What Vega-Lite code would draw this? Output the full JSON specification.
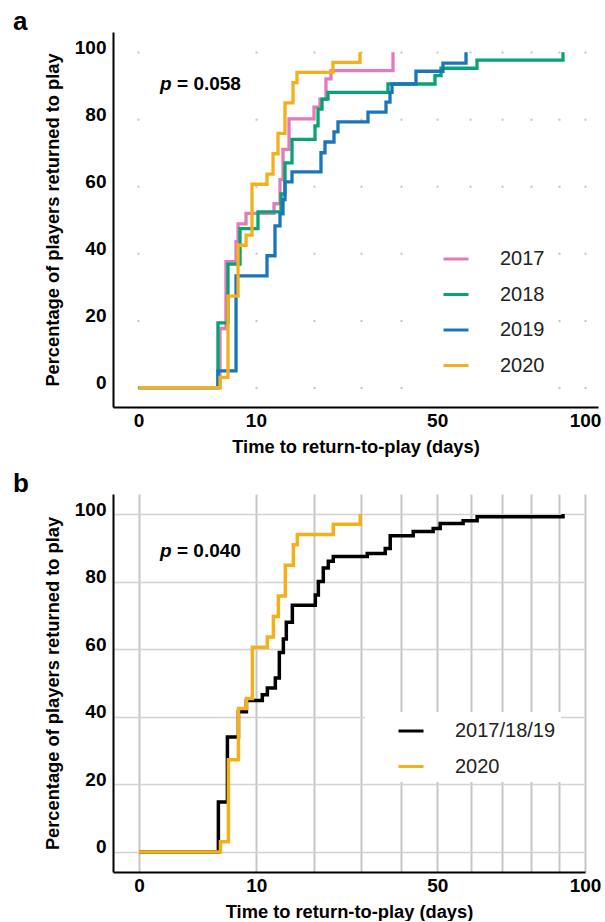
{
  "$schema": "https://vega.github.io/schema/vega-lite/v6.json",
  "background": "white",
  "padding": {"left": 13, "top": 9, "right": 0, "bottom": 0},
  "spacing": 15,
  "resolve": {
    "scale": {"x": "independent", "y": "independent", "color": "independent"},
    "axis": {"x": "independent", "y": "independent"},
    "legend": {"color": "independent"}
  },
  "config": {
    "view": {"stroke": null},
    "font": "Liberation Sans",
    "axis": {
      "domainColor": "#000000",
      "domainWidth": 2,
      "ticks": false,
      "tickSize": 0,
      "labelFont": "Liberation Sans",
      "labelFontWeight": "bold",
      "labelFontSize": 19,
      "labelColor": "#000000",
      "titleFont": "Liberation Sans",
      "titleFontWeight": "bold",
      "titleFontSize": 18.3,
      "titleColor": "#000000",
      "labelFlush": false,
      "labelOverlap": false
    },
    "legend": {
      "labelFont": "Liberation Sans",
      "labelFontSize": 20,
      "labelColor": "#222222"
    },
    "title": {"font": "Liberation Sans", "fontSize": 26, "fontWeight": "bold", "color": "#000000"}
  },
  "datasets": {
    "km": [
      {"g": "2017", "t": 0, "v": 0}, {"g": "2017", "t": 5.33, "v": 17.6}, {"g": "2017", "t": 6.02, "v": 37.5}, {"g": "2017", "t": 7.26, "v": 43.5}, {"g": "2017", "t": 7.52, "v": 48.8}, {"g": "2017", "t": 8.59, "v": 51.9}, {"g": "2017", "t": 12.8, "v": 54.8}, {"g": "2017", "t": 13.79, "v": 62}, {"g": "2017", "t": 14.3, "v": 71}, {"g": "2017", "t": 15.34, "v": 80.1}, {"g": "2017", "t": 19.99, "v": 83.6}, {"g": "2017", "t": 21.18, "v": 86}, {"g": "2017", "t": 22.4, "v": 92}, {"g": "2017", "t": 23.44, "v": 94.5}, {"g": "2017", "t": 37.94, "v": 100},
      {"g": "2018", "t": 0, "v": 0}, {"g": "2018", "t": 5.1, "v": 19.3}, {"g": "2018", "t": 6.26, "v": 36.8}, {"g": "2018", "t": 7.78, "v": 47.4}, {"g": "2018", "t": 10.3, "v": 52.4}, {"g": "2018", "t": 13.96, "v": 57.7}, {"g": "2018", "t": 14.64, "v": 67}, {"g": "2018", "t": 15.87, "v": 74}, {"g": "2018", "t": 20.19, "v": 78}, {"g": "2018", "t": 20.79, "v": 83}, {"g": "2018", "t": 21.59, "v": 86}, {"g": "2018", "t": 22.82, "v": 88}, {"g": "2018", "t": 36.66, "v": 90.5}, {"g": "2018", "t": 49.37, "v": 93}, {"g": "2018", "t": 51.11, "v": 95.2}, {"g": "2018", "t": 62.04, "v": 97.6}, {"g": "2018", "t": 91.66, "v": 100},
      {"g": "2019", "t": 0, "v": 0}, {"g": "2019", "t": 5.1, "v": 5}, {"g": "2019", "t": 7.26, "v": 33.3}, {"g": "2019", "t": 11.68, "v": 39.3}, {"g": "2019", "t": 12.96, "v": 48.2}, {"g": "2019", "t": 13.79, "v": 51.8}, {"g": "2019", "t": 14.3, "v": 56}, {"g": "2019", "t": 14.64, "v": 61.3}, {"g": "2019", "t": 15.87, "v": 64.3}, {"g": "2019", "t": 21.38, "v": 70}, {"g": "2019", "t": 22.2, "v": 73.2}, {"g": "2019", "t": 24.08, "v": 76.2}, {"g": "2019", "t": 24.93, "v": 79.2}, {"g": "2019", "t": 31.75, "v": 82.1}, {"g": "2019", "t": 36.16, "v": 85.1}, {"g": "2019", "t": 37.17, "v": 88}, {"g": "2019", "t": 37.69, "v": 90.5}, {"g": "2019", "t": 44.04, "v": 94.3}, {"g": "2019", "t": 51.69, "v": 96.7}, {"g": "2019", "t": 58.61, "v": 100},
      {"g": "2017/18/19", "t": 0, "v": 0}, {"g": "2017/18/19", "t": 5.1, "v": 14.8}, {"g": "2017/18/19", "t": 6.14, "v": 34}, {"g": "2017/18/19", "t": 7.52, "v": 41.5}, {"g": "2017/18/19", "t": 8.59, "v": 44.8}, {"g": "2017/18/19", "t": 10.9, "v": 46.5}, {"g": "2017/18/19", "t": 11.68, "v": 48.5}, {"g": "2017/18/19", "t": 12.96, "v": 51.5}, {"g": "2017/18/19", "t": 13.62, "v": 59}, {"g": "2017/18/19", "t": 14.3, "v": 63}, {"g": "2017/18/19", "t": 14.81, "v": 68}, {"g": "2017/18/19", "t": 15.87, "v": 73}, {"g": "2017/18/19", "t": 20.19, "v": 76}, {"g": "2017/18/19", "t": 20.79, "v": 80}, {"g": "2017/18/19", "t": 21.79, "v": 84}, {"g": "2017/18/19", "t": 22.82, "v": 86}, {"g": "2017/18/19", "t": 23.86, "v": 87.4}, {"g": "2017/18/19", "t": 31.51, "v": 88.3}, {"g": "2017/18/19", "t": 35.91, "v": 89.8}, {"g": "2017/18/19", "t": 37.17, "v": 93.6}, {"g": "2017/18/19", "t": 43.23, "v": 94.8}, {"g": "2017/18/19", "t": 48.8, "v": 95.7}, {"g": "2017/18/19", "t": 50.82, "v": 97.2}, {"g": "2017/18/19", "t": 57.68, "v": 98}, {"g": "2017/18/19", "t": 62.04, "v": 99.2}, {"g": "2017/18/19", "t": 91.66, "v": 100},
      {"g": "2020", "t": 0, "v": 0}, {"g": "2020", "t": 5.33, "v": 3.03}, {"g": "2020", "t": 6.26, "v": 27.27}, {"g": "2020", "t": 7.52, "v": 42.42}, {"g": "2020", "t": 8.6, "v": 45.45}, {"g": "2020", "t": 9.43, "v": 60.61}, {"g": "2020", "t": 11.68, "v": 63.64}, {"g": "2020", "t": 12.64, "v": 69.7}, {"g": "2020", "t": 13.46, "v": 75.76}, {"g": "2020", "t": 14.64, "v": 84.85}, {"g": "2020", "t": 16.05, "v": 90.91}, {"g": "2020", "t": 16.77, "v": 93.94}, {"g": "2020", "t": 23.86, "v": 96.97}, {"g": "2020", "t": 29.86, "v": 100}
    ],
    "notes": [
      {"panel": "a", "label": "= 0.058"},
      {"panel": "b", "label": "= 0.040"}
    ]
  },
  "vconcat": [
    {
      "width": 485,
      "height": 375,
      "title": {"text": "a", "anchor": "start", "frame": "group", "dx": -100, "baseline": "alphabetic", "offset": -24},
      "layer": [
        {
          "data": {"name": "km"},
          "transform": [{"filter": "datum.g != '2017/18/19'"}],
          "mark": {"type": "line", "interpolate": "step-after", "strokeWidth": 3.3},
          "encoding": {
            "x": {
              "field": "t", "type": "quantitative",
              "title": "Time to return-to-play (days)",
              "scale": {"type": "pow", "exponent": 0.58, "domain": [-0.7185, 105.08], "nice": false, "zero": false},
              "axis": {
                "values": [0, 10, 20, 30, 40, 50, 60, 70, 80, 90, 100],
                "labelExpr": "indexof([0, 10, 50, 100], datum.value) >= 0 ? datum.label : ''",
                "grid": true, "gridDash": [2, 65.08], "gridDashOffset": 47.98,
                "gridColor": "#c4c4c4", "gridWidth": 2,
                "labelPadding": 4, "titlePadding": 8
              }
            },
            "y": {
              "field": "v", "type": "quantitative",
              "title": "Percentage of players returned to play",
              "scale": {"domain": [-5.8, 106], "nice": false, "zero": false},
              "axis": {"values": [0, 20, 40, 60, 80, 100], "grid": false, "labelOffset": -5, "labelPadding": 7, "titlePadding": 12}
            },
            "color": {
              "field": "g", "type": "nominal",
              "scale": {"domain": ["2017", "2018", "2019", "2020"], "range": ["#E07BBE", "#06A472", "#1B75BC", "#F3B01C"]},
              "legend": {
                "title": null, "orient": "none", "legendX": 297, "legendY": 200,
                "fillColor": "white", "padding": 13, "symbolType": "stroke", "symbolSize": 625,
                "symbolStrokeWidth": 3, "rowPadding": 11.5, "symbolOffset": 19, "labelOffset": 30
              }
            }
          }
        },
        {
          "data": {"name": "notes"},
          "transform": [{"filter": "datum.panel == 'a'"}],
          "mark": {"type": "text", "text": "p", "fontStyle": "italic", "fontWeight": "bold", "fontSize": 19, "align": "left", "baseline": "middle", "color": "#000000"},
          "encoding": {
            "x": {"datum": 0.535, "type": "quantitative", "title": "Time to return-to-play (days)"},
            "y": {"datum": 90.5, "type": "quantitative", "title": "Percentage of players returned to play"}
          }
        },
        {
          "data": {"name": "notes"},
          "transform": [{"filter": "datum.panel == 'a'"}],
          "mark": {"type": "text", "fontWeight": "bold", "fontSize": 19, "align": "left", "baseline": "middle", "color": "#000000"},
          "encoding": {
            "x": {"datum": 1.462, "type": "quantitative", "title": "Time to return-to-play (days)"},
            "y": {"datum": 90.5, "type": "quantitative", "title": "Percentage of players returned to play"},
            "text": {"field": "label", "type": "nominal"}
          }
        }
      ]
    },
    {
      "width": 472,
      "height": 378,
      "title": {"text": "b", "anchor": "start", "frame": "group", "dx": -100, "baseline": "alphabetic", "offset": -24},
      "layer": [
        {
          "data": {"name": "km"},
          "transform": [{"filter": "datum.g == '2017/18/19' || datum.g == '2020'"}],
          "mark": {"type": "line", "interpolate": "step-after", "strokeWidth": 3.5},
          "encoding": {
            "x": {
              "field": "t", "type": "quantitative",
              "title": "Time to return-to-play (days)",
              "scale": {"type": "pow", "exponent": 0.58, "domain": [-0.7443, 100], "nice": false, "zero": false},
              "axis": {
                "values": [0, 10, 20, 30, 40, 50, 60, 70, 80, 90, 100],
                "labelExpr": "indexof([0, 10, 50, 100], datum.value) >= 0 ? datum.label : ''",
                "grid": true, "gridColor": "#c6c6c6", "gridWidth": 2,
                "labelPadding": 4, "titlePadding": 8
              }
            },
            "y": {
              "field": "v", "type": "quantitative",
              "title": "Percentage of players returned to play",
              "scale": {"domain": [-5.92, 105.92], "nice": false, "zero": false},
              "axis": {"values": [0, 20, 40, 60, 80, 100], "grid": true, "gridColor": "#d2d2d2", "gridWidth": 1.5, "labelOffset": -5, "labelPadding": 7, "titlePadding": 12}
            },
            "color": {
              "field": "g", "type": "nominal",
              "scale": {"domain": ["2017/18/19", "2020"], "range": ["#000000", "#F3B01C"]},
              "legend": {
                "title": null, "orient": "none", "legendX": 252, "legendY": 218,
                "fillColor": "white", "padding": 5, "symbolType": "stroke", "symbolSize": 625,
                "symbolStrokeWidth": 3, "rowPadding": 11.5, "symbolOffset": 27, "labelOffset": 30
              }
            }
          }
        },
        {
          "data": {"name": "notes"},
          "transform": [{"filter": "datum.panel == 'b'"}],
          "mark": {"type": "text", "text": "p", "fontStyle": "italic", "fontWeight": "bold", "fontSize": 19, "align": "left", "baseline": "middle", "color": "#000000"},
          "encoding": {
            "x": {"datum": 0.515, "type": "quantitative", "title": "Time to return-to-play (days)"},
            "y": {"datum": 89.06, "type": "quantitative", "title": "Percentage of players returned to play"}
          }
        },
        {
          "data": {"name": "notes"},
          "transform": [{"filter": "datum.panel == 'b'"}],
          "mark": {"type": "text", "fontWeight": "bold", "fontSize": 19, "align": "left", "baseline": "middle", "color": "#000000"},
          "encoding": {
            "x": {"datum": 1.432, "type": "quantitative", "title": "Time to return-to-play (days)"},
            "y": {"datum": 89.06, "type": "quantitative", "title": "Percentage of players returned to play"},
            "text": {"field": "label", "type": "nominal"}
          }
        }
      ]
    }
  ]
}
